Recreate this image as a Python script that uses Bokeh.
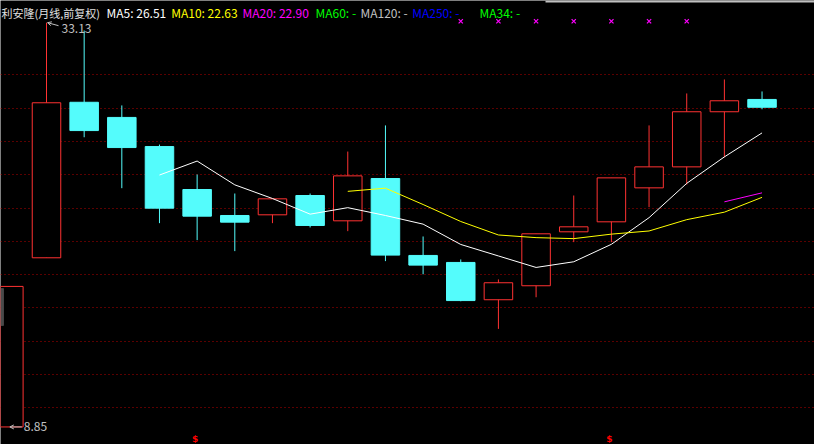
import math
from bokeh.plotting import figure
from bokeh.models import Range1d, Label, Arrow, OpenHead, BoxAnnotation, FixedTicker, ColumnDataSource
from bokeh.core.properties import value
from bokeh.embed import file_html
from bokeh.resources import INLINE

NaN = float("nan")

# ---- data (monthly candles) ----
opens  = [8.85, 19.01, 28.35, 27.44, 25.69, 23.11, 21.55, 21.59, 22.75, 21.23, 23.77,
          19.15, 18.73, 16.49, 17.33, 20.57, 21.17, 23.21, 24.47, 27.78, 28.52]
highs  = [17.29, 33.13, 32.66, 28.16, 25.81, 24.01, 22.87, 22.55, 22.87, 25.39, 26.96,
          20.29, 18.91, 17.71, 20.45, 22.75, 23.81, 26.96, 28.88, 29.72, 29.00]
lows   = [8.85, 19.01, 26.25, 23.19, 21.09, 20.07, 19.41, 21.09, 20.83, 20.61, 18.81,
          18.02, 16.40, 14.74, 16.64, 19.95, 19.95, 22.05, 23.41, 25.05, 27.93]
closes = [17.29, 28.32, 26.65, 25.63, 21.99, 21.51, 21.15, 22.55, 20.95, 23.93, 19.17,
          18.57, 16.44, 17.51, 20.45, 20.87, 23.81, 24.47, 27.78, 28.44, 28.05]

ma5  = [NaN, NaN, NaN, NaN, 23.98, 24.82, 23.39, 22.57, 21.63, 22.02, 21.55,
        21.03, 19.81, 19.12, 18.43, 18.77, 19.82, 21.42, 23.48, 25.07, 26.51]
ma10 = [NaN] * 9 + [23.00, 23.19, 22.21, 21.19, 20.38, 20.22, 20.16, 20.43, 20.62, 21.30, 21.75, 22.64]
ma20 = [NaN] * 19 + [22.37, 22.91]

grid_levels = [10, 12, 14, 16, 18, 20, 22, 24, 26, 28, 30]

title_text = "利安隆(月线,前复权)"
ma_labels = ["MA5: 26.51", "MA10: 22.63", "MA20: 22.90", "MA60: -", "MA120: -", "MA250: -", "MA34: -"]
ma_label_colors = ["#ffffff", "#ffff00", "#ff00ff", "#00ff00", "#c0c0c0", "#0000ff", "#00ff00"]

top_signal_idx = [12, 13, 14, 15, 16, 17, 18]
bottom_signal_idx = [5, 16]

high_label = "33.13"
low_label = "8.85"

# ---- layout / scale ----
W, H = 814, 444
PX_X = 37.66          # px per candle
PX_Y = 16.65          # px per price unit
X0 = -8.34 / PX_X
X1 = X0 + W / PX_X
Y1 = 10 + 407.3 / PX_Y
Y0 = Y1 - H / PX_Y

def sx(px):   # screen px -> data x
    return X0 + px / PX_X

def sy(py):   # screen px (from top) -> data y
    return Y1 - py / PX_Y

p = figure(width=W, height=H, output_backend="svg", toolbar_location=None,
           x_range=Range1d(X0, X1), y_range=Range1d(Y0, Y1), min_border=0,
           background_fill_color="black", border_fill_color="black",
           outline_line_color=None)
p.xaxis.visible = False
p.yaxis.visible = False
p.xgrid.visible = False
p.ygrid.ticker = FixedTicker(ticks=grid_levels)
p.ygrid.grid_line_color = "#b40000"
p.ygrid.grid_line_dash = "1 3"
p.ygrid.grid_line_width = 1

UP = "#ff3232"
DOWN = "#54fcfc"
idx = list(range(len(closes)))
up = [c >= o for o, c in zip(opens, closes)]
src = ColumnDataSource(dict(
    x=idx, high=highs, low=lows,
    top=[max(o, c) for o, c in zip(opens, closes)],
    bottom=[min(o, c) for o, c in zip(opens, closes)],
    line=[UP if u else DOWN for u in up],
    fill=["#000000" if u else DOWN for u in up],
))
p.segment(x0="x", y0="high", x1="x", y1="low", line_color="line", line_width=1, source=src)
p.vbar(x="x", width=0.757, top="top", bottom="bottom", fill_color="fill",
       line_color="line", line_width=1, source=src)

p.line(idx, ma5, line_color="#ffffff", line_width=1)
p.line(idx, ma10, line_color="#ffff00", line_width=1)
p.line(idx, ma20, line_color="#ff00ff", line_width=1)

# signal markers
p.scatter(top_signal_idx, [sy(20.7)] * len(top_signal_idx), marker="x", size=6,
          line_color="#ff00ff", line_width=1.2)
p.text(bottom_signal_idx, [sy(443.5)] * len(bottom_signal_idx), text=["$"] * len(bottom_signal_idx),
       text_color="#ff0000", text_font=value("DejaVu Sans"), text_font_size="9px",
       text_font_style="bold", text_align="center", text_baseline="bottom",
       x_offset=-2)

# header
FONT = "Noto Sans CJK SC"
p.add_layout(Label(x=sx(1), y=sy(12), text=title_text, text_color="#e0e0e0",
                   text_font=FONT, text_font_size="11px", text_baseline="middle"))
ma_px = [106, 170.7, 242, 315, 360, 411.7, 479]
for t, c, px in zip(ma_labels, ma_label_colors, ma_px):
    p.add_layout(Label(x=sx(px), y=sy(12), text=t, text_color=c, text_font=FONT,
                       text_font_size="12px", text_baseline="middle"))

# high / low markers
hi_i = highs.index(max(highs))
lo_i = lows.index(min(lows))
GRAY = "#c0c0c0"
p.add_layout(Arrow(end=OpenHead(size=4, line_color=GRAY, line_width=1),
                   x_start=hi_i + 12 / PX_X, y_start=highs[hi_i] - 3 / PX_Y,
                   x_end=hi_i + 1 / PX_X, y_end=highs[hi_i],
                   line_color=GRAY, line_width=1))
p.add_layout(Label(x=hi_i, y=highs[hi_i], x_offset=15, y_offset=-6, text=high_label,
                   text_color=GRAY, text_font=FONT, text_font_size="12px",
                   text_baseline="middle"))
p.add_layout(Arrow(end=OpenHead(size=4, line_color=GRAY, line_width=1),
                   x_start=lo_i + 13 / PX_X, y_start=lows[lo_i],
                   x_end=lo_i + 1 / PX_X, y_end=lows[lo_i],
                   line_color=GRAY, line_width=1))
p.add_layout(Label(x=lo_i, y=lows[lo_i], x_offset=15, y_offset=0, text=low_label,
                   text_color=GRAY, text_font=FONT, text_font_size="12px",
                   text_baseline="middle"))

# decorations: top-right tab border and left scroll handle
p.add_layout(BoxAnnotation(left=sx(545), right=X1, top=Y1, bottom=sy(2),
                           fill_color="#c0c0c0", fill_alpha=1, line_color=None))
p.add_layout(BoxAnnotation(left=X0, right=sx(3), top=sy(288), bottom=sy(325),
                           fill_color="#4a4a4a", fill_alpha=1, line_color="#909090",
                           line_width=1))

open("out.html", "w").write(file_html(p, INLINE))
